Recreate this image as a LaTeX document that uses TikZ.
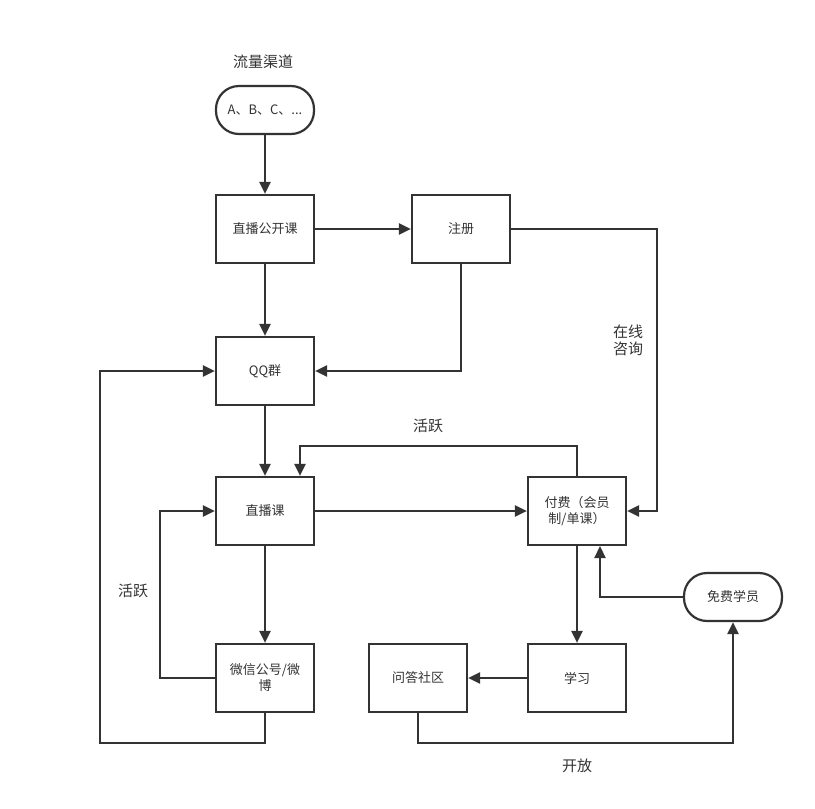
\documentclass[tikz,border=0pt]{standalone}
\usepackage{fontspec}
\setmainfont{Noto Sans CJK SC}
\usetikzlibrary{arrows.meta,calc}
\definecolor{ln}{HTML}{333333}
\tikzset{
  box/.style={draw=ln,line width=2.2pt,minimum width=98pt,minimum height=68pt,inner sep=2pt,align=center,font=\fontsize{13}{16}\selectfont,text=ln},
  pill/.style={box,rounded corners=23pt,minimum height=48pt},
  conn/.style={draw=ln,line width=2.2pt,-{Triangle[length=12pt,width=11pt]}},
  lbl/.style={font=\fontsize{15}{19}\selectfont,text=ln,align=center},
}
\begin{document}
\begin{tikzpicture}[x=1pt,y=-1pt]
\useasboundingbox (0,0) rectangle (815,809);
\node[lbl] (title) at (263,62) {流量渠道};
\node[pill] (src) at (265,110) {A、B、C、...};
\node[box] (open) at (265,229) {直播公开课};
\node[box] (reg) at (461,229) {注册};
\node[box] (qq) at (265,371) {QQ群};
\node[box] (live) at (265,511) {直播课};
\node[box] (pay) at (577,511) {付费（会员\\制/单课）};
\node[box] (wx) at (265,678) {微信公号/微\\博};
\node[box] (qa) at (418,678) {问答社区};
\node[box] (study) at (577,678) {学习};
\node[pill] (free) at (733,597) {免费学员};

\coordinate (c1) at (657,229);
\coordinate (c2) at (300,446);
\coordinate (c3) at (160,678);
\coordinate (c4) at (100,743);
\coordinate (c5) at (733,743);
\coordinate (c6) at (600,546);

\draw[conn] (src) -- (open);
\draw[conn] (open) -- (reg);
\draw[conn] (open) -- (qq);
\draw[conn] (reg.south) |- (qq.east);
\draw[conn] (reg.east) -| (c1) |- (pay.east);
\draw[conn] (qq) -- (live);
\draw[conn] (live) -- (pay);
\draw[conn] (pay.north) |- (c2) -- ($(live.north)+(35,0)$);
\draw[conn] (live) -- (wx);
\draw[conn] (wx.west) -- (c3) |- (live.west);
\draw[conn] (wx.south) |- (c4) |- (qq.west);
\draw[conn] (pay) -- (study);
\draw[conn] (study) -- (qa);
\draw[conn] (qa.south) |- (c5) -- (free.south);
\draw[conn] (free.west) -| (c6);

\node[lbl] (l1) at (628,340) {在线\\[-2pt]咨询};
\node[lbl] (l2) at (428,426) {活跃};
\node[lbl] (l3) at (133,591) {活跃};
\node[lbl] (l4) at (577,766) {开放};
\end{tikzpicture}
\end{document}
